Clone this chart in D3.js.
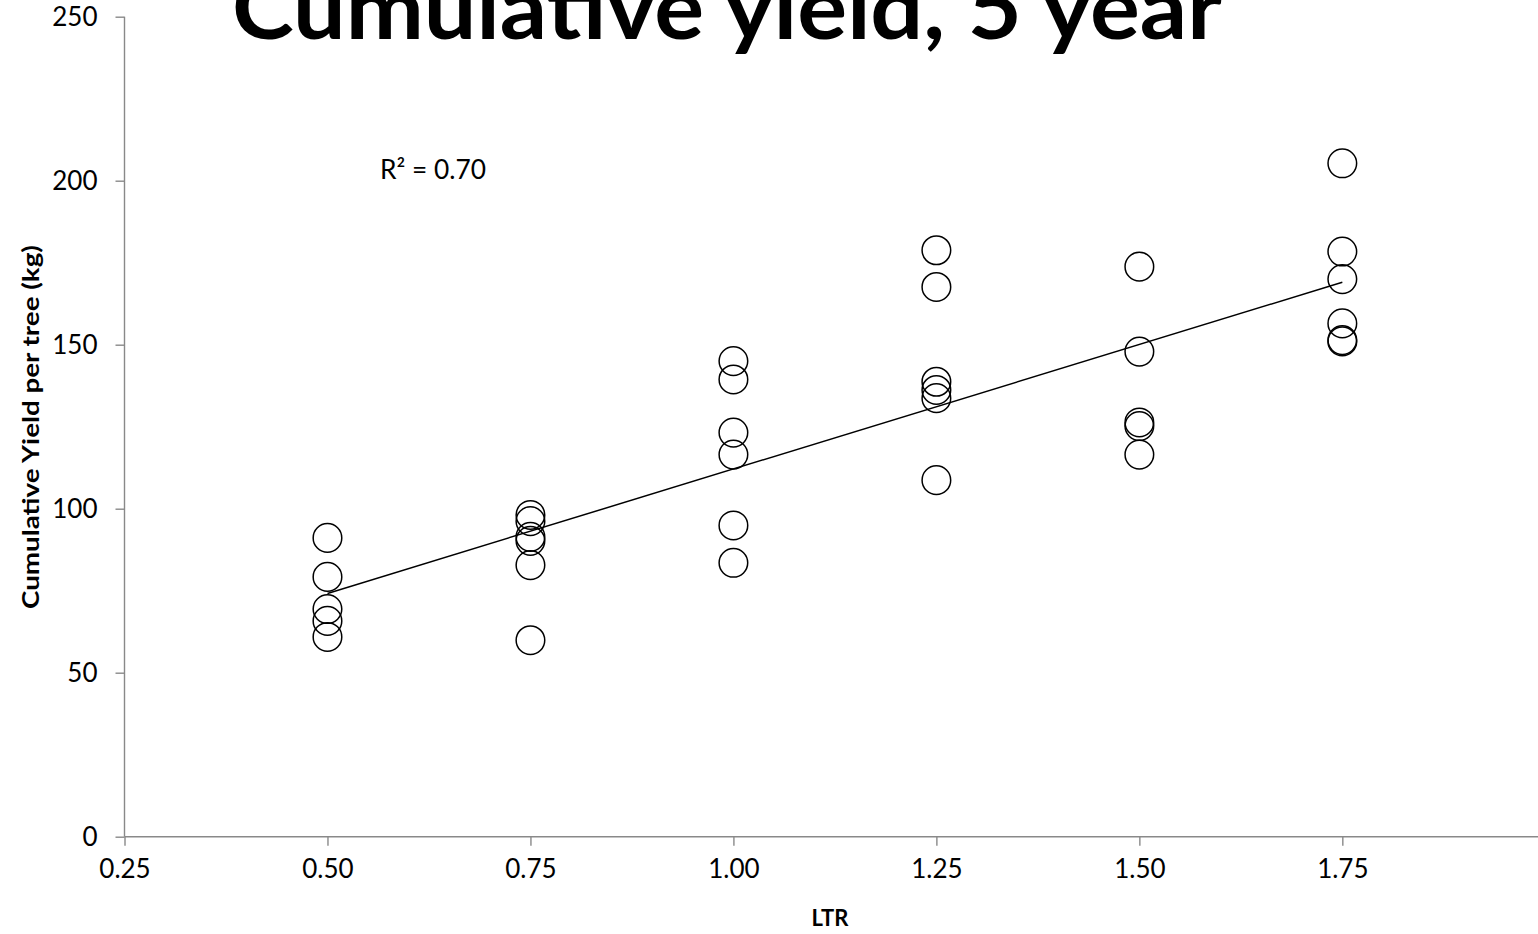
<!DOCTYPE html>
<html>
<head>
<meta charset="utf-8">
<script src="https://cdn.jsdelivr.net/npm/d3@7"></script>
<style>
  html, body { margin: 0; padding: 0; background: #fff; overflow: hidden; }
  svg { display: block; }
  text { font-family: Lato, "Open Sans", sans-serif; fill: #000; }
</style>
</head>
<body>
<svg id="chart" width="1538" height="934"></svg>
<script>
// ---- Data ----
const ltrLevels = [0.50, 0.75, 1.00, 1.25, 1.50, 1.75];
const yield050 = [91.1, 79.2, 69.4, 65.8, 60.9];
const yield075 = [98.1, 96.2, 91.4, 90.2, 82.8, 59.9];
const yield100 = [145.0, 139.4, 123.2, 116.5, 94.9, 83.5];
const yield125 = [178.8, 167.6, 138.7, 136.2, 133.7, 108.7];
const yield150 = [173.8, 147.9, 126.3, 125.2, 116.5];
const yield175 = [205.3, 178.4, 170.0, 156.5, 151.4, 151.0];
const xTicks = [0.25, 0.50, 0.75, 1.00, 1.25, 1.50, 1.75];
const yTicks = [0, 50, 100, 150, 200, 250];
const titleText = "Cumulative yield, 5 year";
const xLabel = "LTR";
const yLabel = "Cumulative Yield per tree (kg)";
const r2Text = "R\u00B2 = 0.70";

const groups = [yield050, yield075, yield100, yield125, yield150, yield175];
const points = [];
groups.forEach((g, i) => g.forEach(v => points.push({x: ltrLevels[i], y: v})));

// ---- Layout ----
const svg = d3.select("#chart");
const x = d3.scaleLinear().domain([0.25, 2.0]).range([124.5, 1545.3]);
const y = d3.scaleLinear().domain([0, 250]).range([836.7, 16.7]);
const axisColor = "#898989";

// Y axis
const yAxis = svg.append("g")
  .attr("transform", `translate(${x(0.25)},0)`)
  .call(d3.axisLeft(y).tickValues(yTicks).tickSize(9).tickPadding(18).tickFormat(d3.format("d")));
// X axis
const xAxis = svg.append("g")
  .attr("transform", `translate(0,${y(0)})`)
  .call(d3.axisBottom(x).tickValues(xTicks).tickSize(9).tickPadding(14).tickFormat(d3.format(".2f")));

[xAxis, yAxis].forEach(a => {
  a.select(".domain").attr("stroke", axisColor).attr("stroke-width", 1.4);
  a.selectAll(".tick line").attr("stroke", axisColor).attr("stroke-width", 1.4);
  a.selectAll(".tick text").attr("font-size", 26).attr("font-family", "Lato, 'Open Sans', sans-serif").attr("fill", "#000");
});
xAxis.select(".domain").attr("d", `M${x(0.25)},0H${x(2.0)}`);
yAxis.select(".domain").attr("d", `M0,${y(0)}V${y(250)}`);

// Regression line computed from the data
const mx = d3.mean(points, d => d.x), my = d3.mean(points, d => d.y);
const sxy = d3.sum(points, d => (d.x - mx) * (d.y - my));
const sxx = d3.sum(points, d => (d.x - mx) ** 2);
const slope = sxy / sxx, intercept = my - slope * mx;
const xMin = d3.min(ltrLevels), xMax = d3.max(ltrLevels);
svg.append("line")
  .attr("x1", x(xMin)).attr("y1", y(intercept + slope * xMin))
  .attr("x2", x(xMax)).attr("y2", y(intercept + slope * xMax))
  .attr("stroke", "#000").attr("stroke-width", 1.5);

// Points
svg.append("g").selectAll("circle").data(points).join("circle")
  .attr("cx", d => x(d.x)).attr("cy", d => y(d.y)).attr("r", 14.3)
  .attr("fill", "none").attr("stroke", "#000").attr("stroke-width", 1.5);

// R² label
svg.append("text").attr("x", 380).attr("y", 179).attr("font-size", 26)
  .attr("textLength", 106).attr("lengthAdjust", "spacingAndGlyphs").text(r2Text);

// Title (cut off at the top edge, as in the reference)
svg.append("text").attr("x", 232).attr("y", 39)
  .attr("font-size", 88).attr("font-weight", "bold")
  .attr("textLength", 990).attr("lengthAdjust", "spacingAndGlyphs")
  .text(titleText);

// Axis titles
svg.append("text").attr("x", 830).attr("y", 926).attr("text-anchor", "middle")
  .attr("font-size", 22).attr("font-weight", "bold").text(xLabel);
svg.append("text").attr("transform", "translate(39,427) rotate(-90)")
  .attr("text-anchor", "middle").attr("font-size", 22).attr("font-weight", "bold")
  .attr("textLength", 364).attr("lengthAdjust", "spacingAndGlyphs")
  .text(yLabel);
</script>
</body>
</html>
